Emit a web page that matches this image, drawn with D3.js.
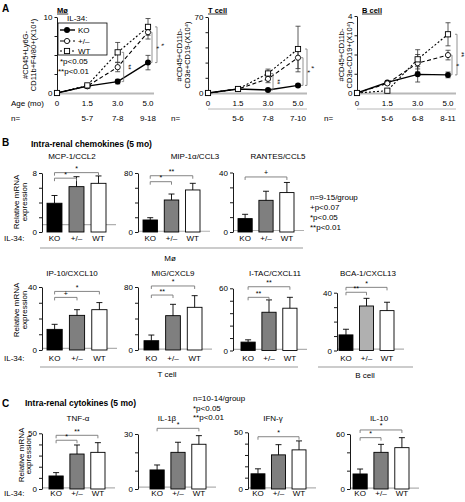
<!DOCTYPE html>
<html><head><meta charset="utf-8">
<script src="https://cdn.jsdelivr.net/npm/d3@7"></script>
<style>
body{margin:0;background:#fff}
svg text{font-family:"Liberation Sans",Arial,Helvetica,sans-serif;fill:#000}
</style>
</head><body>
<svg id="c" width="465" height="502"></svg>
<script>
// ================= DATA: panel A (infiltrating cells over age) =================
const ages = ["0", "1.5", "3.0", "5.0"];
const moN = ["", "5-7", "7-8", "9-18"];
const tN  = ["", "5-6", "7-8", "7-10"];
const bN  = ["", "5-6", "6-8", "8-11"];

const moKO  = [0, 0.9, 1.5, 4.0];   const moKOErr  = [0, 0.15, 0.3, 0.95];
const moHet = [0, 0.9, 3.4, 8.0];   const moHetErr = [0, 0.15, 0.6, 0.9];
const moWT  = [0, 1.0, 5.35, 8.7];  const moWTErr  = [0, 0.2, 1.3, 1.1];

const tKO  = [0, 3.7, 2.8, 7.0];    const tKOErr  = [0, 0.5, 0.8, 1.2];
const tHet = [0, 3.7, 13.0, 32.5];  const tHetErr = [0, 0.5, 3.5, 10];
const tWT  = [0, 3.7, 18.0, 40.5];  const tWTErr  = [0, 0.5, 4.0, 21];

const bKO  = [0, 0.55, 0.97, 0.94]; const bKOErr  = [0, 0.05, 0.4, 0.15];
const bHet = [0, 0.5, 1.55, 1.97];  const bHetErr = [0, 0.05, 0.45, 0.25];
const bWT  = [0, 0.12, 1.75, 3.05]; const bWTErr  = [0, 0.05, 0.5, 0.6];

// ================= DATA: panels B and C (relative mRNA) =================
const genotypes = ["KO", "+/–", "WT"];
const mcp1  = [3.9, 6.15, 6.6];   const mcp1Err  = [1.05, 1.35, 1.0];
const mip1a = [16.3, 43.4, 57];   const mip1aErr = [3.1, 8.1, 9];
const rantes= [9.0, 21.3, 26.5];  const rantesErr= [2.9, 6.1, 6.8];
const ip10  = [13.1, 22.0, 25.6]; const ip10Err  = [3.2, 3.6, 4.5];
const mig   = [11.8, 43.6, 54.2]; const migErr   = [7.2, 14.4, 14.8];
const itac  = [8.1, 36.9, 40.8];  const itacErr  = [2.2, 11.9, 10.5];
const bca1  = [10.8, 30.8, 27.6]; const bca1Err  = [3.9, 5.3, 5.8];
const tnfa  = [11.7, 31.4, 32.9]; const tnfaErr  = [3.0, 8.1, 8.7];
const il1b  = [10.4, 20.0, 24.4]; const il1bErr  = [2.7, 5.5, 4.7];
const ifng  = [13.4, 30.1, 34.5]; const ifngErr  = [4.4, 9.0, 7.9];
const il10  = [16.4, 40.0, 45.1]; const il10Err  = [5.4, 8.7, 10.9];

// ================= DRAWING =================
const svg = d3.select("#c");

function text(x, y, s, o = {}) {
  const t = svg.append("text").attr("x", x).attr("y", y).text(s)
    .attr("font-size", o.size || 8)
    .attr("text-anchor", o.anchor || "start");
  if (o.bold) t.attr("font-weight", "bold");
  if (o.rotate !== undefined) t.attr("transform", `rotate(${o.rotate},${x},${y})`);
  if (o.fill) t.style("fill", o.fill);
  return t;
}
function underline(t) {
  const bb = t.node().getBBox();
  svg.append("line").attr("x1", bb.x).attr("x2", bb.x + bb.width)
    .attr("y1", bb.y + bb.height - 1).attr("y2", bb.y + bb.height - 1)
    .attr("stroke", "#000").attr("stroke-width", 0.8);
}

// Panel letters and section titles
text(2, 12, "A", {size: 10, bold: true});
text(2, 146, "B", {size: 10, bold: true});
text(2, 407, "C", {size: 10, bold: true});
text(31, 147, "Intra-renal chemokines (5 mo)", {size: 8.5, bold: true});
text(25, 406, "Intra-renal cytokines (5 mo)", {size: 8.5, bold: true});

// ---------- panel A ----------
const styles = {
  ko:  {dash: null, w: 1.4},
  het: {dash: "4,2.5", w: 1.1},
  wt:  {dash: "2,2", w: 1.1}
};
function marker(g, kind, cx, cy) {
  if (kind === "ko") g.append("circle").attr("cx", cx).attr("cy", cy).attr("r", 3).attr("fill", "#000");
  else if (kind === "het") g.append("circle").attr("cx", cx).attr("cy", cy).attr("r", 2.6).attr("fill", "#fff").attr("stroke", "#000").attr("stroke-width", 0.9);
  else g.append("rect").attr("x", cx - 2.6).attr("y", cy - 2.6).attr("width", 5.2).attr("height", 5.2).attr("fill", "#fff").attr("stroke", "#000").attr("stroke-width", 0.9);
}

const linePanels = [
  {title: "Mø", titleX: 57, ylab: ["#CD45+Ly6G-", "CD11b+F4/80+(X10⁴)"], labX: [28, 36],
   max: 10, ticks: 4, x0: 57, x1: 148, yB: 93, yT: 17, xEnd: 154,
   ser: {ko: [moKO, moKOErr], het: [moHet, moHetErr], wt: [moWT, moWTErr]},
   n: moN, nX: 11, ageLabel: true, nLine: false,
   sig: [[2, "wt", 6, "**"], [3, "het", 4, "*"], [3, "wt", 9, "*"]]},
  {title: "T cell", titleX: 208, ylab: ["#CD45+CD11b-", "CD3e+CD19-(X10⁴)"], labX: [182, 190],
   max: 70, ticks: 5, x0: 208, x1: 298, yB: 93, yT: 17, xEnd: 307,
   ser: {ko: [tKO, tKOErr], het: [tHet, tHetErr], wt: [tWT, tWTErr]},
   n: tN, nX: 171, ageLabel: false, nLine: true,
   sig: [[2, "wt", 5, "**"], [3, "het", 5, "*"], [3, "wt", 9, "*"]]},
  {title: "B cell", titleX: 362, ylab: ["#CD45+CD11b-", "CD3e-CD19+(X10⁴)"], labX: [344, 352],
   max: 4, ticks: 4, x0: 357, x1: 448, yB: 93, yT: 16, xEnd: 456,
   ser: {ko: [bKO, bKOErr], het: [bHet, bHetErr], wt: [bWT, bWTErr]},
   n: bN, nX: 324, ageLabel: false, nLine: true,
   sig: [[3, "het", 4, "*"], [3, "wt", 9, "**"]]}
];

linePanels.forEach(p => {
  const x = d3.scalePoint().domain(ages).range([p.x0, p.x1]);
  const y = d3.scaleLinear().domain([0, p.max]).range([p.yB, p.yT]);
  const g = svg.append("g");
  g.append("line").attr("x1", p.x0).attr("x2", p.xEnd).attr("y1", y(0) + 0.5).attr("y2", y(0) + 0.5)
    .attr("stroke", "#b8b8b8").attr("stroke-width", 2);
  const ya = d3.axisLeft(y).tickValues(d3.range(p.ticks + 1).map(i => p.max * i / p.ticks))
    .tickSize(2.5).tickSizeOuter(0).tickPadding(2)
    .tickFormat(d => (d === 0 || d === p.max) ? d : "");
  const ag = g.append("g").attr("transform", `translate(${p.x0},0)`).call(ya);
  ag.selectAll("text").attr("font-size", 8).attr("font-family", null);
  ag.selectAll("path,line").attr("stroke", "#000").attr("stroke-width", 0.9);
  ages.forEach(a => text(x(a), 106, a, {anchor: "middle"}));
  if (p.ageLabel) text(p.nX, 106, "Age (mo)");
  if (p.nLine) g.append("line").attr("x1", p.x0).attr("x2", p.xEnd).attr("y1", 109).attr("y2", 109)
    .attr("stroke", "#b8b8b8").attr("stroke-width", 1);
  text(p.nX, 121, "n=");
  p.n.forEach((s, i) => { if (s) text(x(ages[i]), 121, s, {anchor: "middle"}); });
  const cy = 55;
  text(p.labX[0], cy, p.ylab[0], {anchor: "middle", rotate: -90, size: 7.5});
  text(p.labX[1], cy, p.ylab[1], {anchor: "middle", rotate: -90, size: 7.5});
  underline(text(p.titleX, 13, p.title, {bold: true, size: 7.5}));
  ["ko", "het", "wt"].forEach(k => {
    const [vals] = p.ser[k];
    const line = d3.line().x((d, i) => x(ages[i])).y(d => y(d));
    const path = g.append("path").datum(vals).attr("d", line).attr("fill", "none")
      .attr("stroke", "#000").attr("stroke-width", styles[k].w);
    if (styles[k].dash) path.attr("stroke-dasharray", styles[k].dash);
  });
  ["ko", "het", "wt"].forEach(k => {
    const [vals, errs] = p.ser[k];
    vals.forEach((v, i) => {
      if (!errs[i]) return;
      const cx = x(ages[i]);
      const y1 = y(v - errs[i]), y2 = y(v + errs[i]);
      g.append("line").attr("x1", cx).attr("x2", cx).attr("y1", y1).attr("y2", y2).attr("stroke", "#333").attr("stroke-width", 0.8);
      [y1, y2].forEach(yy => g.append("line").attr("x1", cx - 2.5).attr("x2", cx + 2.5).attr("y1", yy).attr("y2", yy).attr("stroke", "#333").attr("stroke-width", 0.8));
    });
  });
  ["ko", "het", "wt"].forEach(k => {
    const [vals] = p.ser[k];
    vals.forEach((v, i) => marker(g, k, x(ages[i]), y(v)));
  });
  p.sig.forEach(([i, k, dx, lab]) => {
    const bx = x(ages[i]) + dx;
    const ya1 = y(p.ser.ko[0][i]), ya2 = y(p.ser[k][0][i]);
    g.append("path").attr("d", `M${bx - 2},${ya1}H${bx}V${ya2}H${bx - 2}`)
      .attr("fill", "none").attr("stroke", "#777").attr("stroke-width", 0.8);
    text(bx + 2, (ya1 + ya2) / 2, lab, {size: 6.5, rotate: 90, anchor: "middle"});
  });
});

// Legend for panel A
{
  const g = svg.append("g");
  text(67, 21, "IL-34:");
  g.append("rect").attr("x", 58).attr("y", 23).attr("width", 49).attr("height", 32)
    .attr("fill", "#fff").attr("stroke", "#000").attr("stroke-width", 0.8);
  const items = [["ko", "KO", 30], ["het", "+/–", 41], ["wt", "WT", 51]];
  items.forEach(([k, lab, yy]) => {
    const l = g.append("line").attr("x1", 60).attr("x2", 75).attr("y1", yy).attr("y2", yy)
      .attr("stroke", "#000").attr("stroke-width", styles[k].w);
    if (styles[k].dash) l.attr("stroke-dasharray", styles[k].dash);
    marker(g, k, 67, yy);
    text(78, yy + 3, lab);
  });
  text(60, 64, "*p<0.05");
  text(58, 74, "**p<0.01");
}

// ---------- panels B and C ----------
const fills = ["#000", "#7f7f7f", "#fff"];
const barPanels = [
  {t: "MCP-1/CCL2", tx: 72, ty: 159, v: mcp1, e: mcp1Err, max: 8, ticks: 4, ax: 42, bx: [47, 106], base: 232, top: 173, lab: 241, il: true,
   br: [[0, 1, 7.3, "*"], [0, 2, 8.05, "*"]]},
  {t: "MIP-1α/CCL3", tx: 195, ty: 159, v: mip1a, e: mip1aErr, max: 80, ticks: 4, ax: 138, bx: [143, 200], base: 232, top: 173, lab: 241,
   br: [[0, 1, 68.2, "*"], [0, 2, 76.3, "**"]]},
  {t: "RANTES/CCL5", tx: 278, ty: 159, v: rantes, e: rantesErr, max: 40, ticks: 4, ax: 233, bx: [238, 294], base: 232, top: 172.5, lab: 241,
   br: [[0, 2, 37, "+"]]},
  {t: "IP-10/CXCL10", tx: 72, ty: 276, v: ip10, e: ip10Err, max: 40, ticks: 4, ax: 42, bx: [47, 107], base: 350, top: 287, lab: 361, il: true,
   br: [[0, 1, 33.4, "+"], [0, 2, 37.2, "*"]]},
  {t: "MIG/CXCL9", tx: 173, ty: 276, v: mig, e: migErr, max: 80, ticks: 4, ax: 138, bx: [144, 202], base: 350, top: 287, lab: 361,
   br: [[0, 1, 69.8, "**"], [0, 2, 81.3, "*"]]},
  {t: "I-TAC/CXCL11", tx: 275, ty: 276, v: itac, e: itacErr, max: 60, ticks: 5, ax: 233, bx: [241, 297], base: 350.5, top: 288.3, lab: 361,
   br: [[0, 1, 51.3, "**"], [0, 2, 61.5, "**"]]},
  {t: "BCA-1/CXCL13", tx: 368, ty: 276, v: bca1, e: bca1Err, max: 40, ticks: 4, ax: 337, bx: [339, 394], base: 350.5, top: 292.7, lab: 361, light: true,
   br: [[0, 1, 40.3, "**"], [0, 2, 43.7, "*"]]},
  {t: "TNF-α", tx: 78, ty: 421, v: tnfa, e: tnfaErr, max: 50, ticks: 5, ax: 42, bx: [49, 105], base: 489, top: 433.3, lab: 496, il: true,
   br: [[0, 1, 43.75, "*"], [0, 2, 48.2, "**"]]},
  {t: "IL-1β", tx: 167, ty: 421, v: il1b, e: il1bErr, max: 30, ticks: 3, ax: 138, bx: [150, 206], base: 489, top: 434, lab: 496,
   br: [[0, 2, 33.1, "*"]]},
  {t: "IFN-γ", tx: 273, ty: 421, v: ifng, e: ifngErr, max: 50, ticks: 5, ax: 248, bx: [251, 306], base: 489, top: 432.3, lab: 496,
   br: [[0, 2, 46.1, "*"]]},
  {t: "IL-10", tx: 379, ty: 421, v: il10, e: il10Err, max: 60, ticks: 3, ax: 350, bx: [353, 409], base: 489, top: 434, lab: 496,
   br: [[0, 1, 56, "*"], [0, 2, 64.4, "*"]]}
];

barPanels.forEach(p => {
  const y = d3.scaleLinear().domain([0, p.max]).range([p.base, p.top]);
  const x = d3.scaleBand().domain(genotypes).range(p.bx).paddingInner(0.32).paddingOuter(0);
  const g = svg.append("g");
  g.append("line").attr("x1", p.ax).attr("x2", p.bx[1] + 10).attr("y1", y(1)).attr("y2", y(1))
    .attr("stroke", "#b0b0b0").attr("stroke-width", 1.2);
  const ya = d3.axisLeft(y).tickValues(d3.range(p.ticks + 1).map(i => p.max * i / p.ticks))
    .tickSize(3).tickSizeOuter(0).tickPadding(2)
    .tickFormat(d => (d === 0 || d === p.max) ? d : "");
  const ag = g.append("g").attr("transform", `translate(${p.ax},0)`).call(ya);
  ag.selectAll("text").attr("font-size", 8).attr("font-family", null);
  ag.selectAll("path,line").attr("stroke", "#000").attr("stroke-width", 0.9);
  genotypes.forEach((gt, i) => {
    const fill = (i === 1 && p.light) ? "#b0b0b0" : fills[i];
    g.append("rect").attr("x", x(gt)).attr("y", y(p.v[i])).attr("width", x.bandwidth())
      .attr("height", y(0) - y(p.v[i])).attr("fill", fill).attr("stroke", "#000").attr("stroke-width", 0.9);
    const cx = x(gt) + x.bandwidth() / 2;
    const yt = y(p.v[i] + p.e[i]);
    g.append("line").attr("x1", cx).attr("x2", cx).attr("y1", y(p.v[i])).attr("y2", yt).attr("stroke", "#000").attr("stroke-width", 0.9);
    g.append("line").attr("x1", cx - 3).attr("x2", cx + 3).attr("y1", yt).attr("y2", yt).attr("stroke", "#000").attr("stroke-width", 0.9);
    text(cx, p.lab, gt, {anchor: "middle"});
  });
  p.br.forEach(([a, b, val, lab]) => {
    const xa = x(genotypes[a]) + x.bandwidth() / 2, xb = x(genotypes[b]) + x.bandwidth() / 2;
    const yy = y(val);
    g.append("path").attr("d", `M${xa},${yy + 3}V${yy}H${xb}V${yy + 3}`)
      .attr("fill", "none").attr("stroke", "#777").attr("stroke-width", 0.9);
    text((xa + xb) / 2, yy - 1.5, lab, {anchor: "middle", size: 7});
  });
  text(p.tx, p.ty, p.t, {anchor: "middle"});
  if (p.il) text(4, p.lab, "IL-34:");
});

[[19, 27, 202], [19, 27, 310], [24, 31, 455]].forEach(([x1, x2, cy]) => {
  text(x1, cy, "Relative mRNA", {anchor: "middle", rotate: -90});
  text(x2, cy, "expression", {anchor: "middle", rotate: -90});
});

[[40, 303, 248, "Mø", 170, 261], [40, 298, 367, "T cell", 167, 377], [318, 413, 367, "B cell", 365, 378]]
  .forEach(([x1, x2, yy, lab, lx, ly]) => {
    svg.append("line").attr("x1", x1).attr("x2", x2).attr("y1", yy).attr("y2", yy)
      .attr("stroke", "#999").attr("stroke-width", 1.2);
    text(lx, ly, lab, {anchor: "middle"});
  });

["n=9-15/group", "+p<0.07", "*p<0.05", "**p<0.01"].forEach((s, i) => text(310, 200 + i * 10, s));
["n=10-14/group", "*p<0.05", "**p<0.01"].forEach((s, i) => text(193, 401 + i * 9.5, s));
</script>
</body></html>
